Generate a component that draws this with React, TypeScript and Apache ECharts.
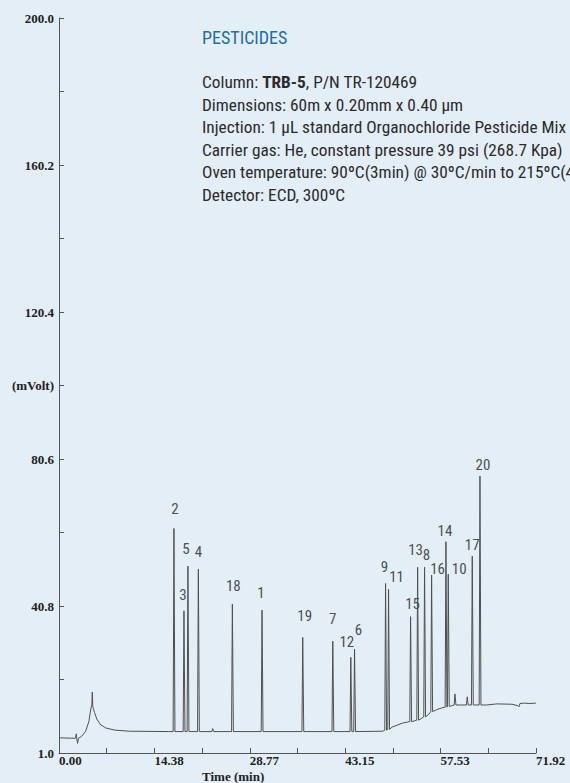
import React, { useEffect, useRef } from "react";
import * as echarts from "echarts";

// ---- axis ticks ----
const xTickLabels = ["0.00", "14.38", "28.77", "43.15", "57.53", "71.92"];
const yTickLabels = ["1.0", "40.8", "80.6", "120.4", "160.2", "200.0"];
const yAxisTitle = "(mVolt)";
const xAxisTitle = "Time (min)";

// ---- labelled peaks (retention time in min, apex in mVolt, baseline under peak) ----
const peakLabels = ["2", "3", "5", "4", "18", "1", "19", "7", "12", "6", "9", "11", "15", "13", "8", "16", "14", "10", "17", "20"];
const peakTimes = [17.33, 18.84, 19.44, 21.01, 26.14, 30.61, 36.75, 41.28, 44.0, 44.56, 49.24, 49.69, 53.01, 54.07, 55.12, 56.18, 58.34, 58.69, 62.31, 63.47];
const peakHeights = [61.8, 39.5, 51.6, 50.8, 41.3, 39.7, 32.3, 31.3, 26.9, 29.1, 46.9, 45.3, 37.9, 51.3, 51.3, 49.2, 58.2, 49.4, 54.3, 76.0];
const peakBases = [6.8, 6.8, 6.8, 6.8, 6.8, 6.8, 6.8, 6.8, 6.8, 6.8, 7.2, 7.4, 9.5, 9.9, 10.8, 12.2, 13.4, 13.6, 14.0, 14.0];

// ---- small unlabelled peaks ----
const minorPeakTimes = [23.17, 59.7, 61.55];
const minorPeakHeights = [7.6, 17.0, 16.2];
const minorPeakBases = [6.8, 14.0, 14.0];

// ---- baseline trace between peaks ----
const baselineTimes = [0.05, 1.9, 2.5, 2.6, 2.68, 2.8, 2.95, 3.4, 4.0, 4.5, 4.8, 4.95, 5.02, 5.1, 5.35, 5.7, 6.2, 7.0, 8.4, 10.6, 16.5, 48.8, 50.2, 51.8, 52.6, 53.6, 54.6, 55.7, 56.9, 57.7, 59.2, 60.5, 64.5, 66.0, 68.3, 69.2, 69.35, 69.5, 70.2, 71.0, 71.9];
const baselineValues = [5.1, 5.0, 5.0, 6.2, 4.9, 3.6, 5.0, 5.5, 6.8, 9.5, 13.0, 14.0, 17.5, 13.5, 12.0, 10.2, 8.8, 7.8, 7.2, 6.9, 6.8, 6.9, 8.0, 9.1, 9.4, 9.7, 10.3, 11.4, 12.7, 13.2, 13.8, 14.0, 14.0, 14.3, 14.2, 13.8, 13.5, 14.4, 14.5, 14.4, 14.5];

// ---- info block ----
const infoTitle = "PESTICIDES";
const infoLines = [
  "Column: {b|TRB-5}, P/N TR-120469",
  "Dimensions: 60m x 0.20mm x 0.40 µm",
  "Injection: 1 µL standard Organochloride Pesticide Mix A",
  "Carrier gas: He, constant pressure 39 psi (268.7 Kpa)",
  "Oven temperature: 90ºC(3min) @ 30ºC/min to 215ºC(4min)",
  "Detector: ECD, 300ºC",
];

// ---- layout of peak labels (pixel nudge from apex to label centre) ----
const labelOffsets = [
  [1, -19], [-1, -16], [-2, -17], [0, -17], [1, -18], [-1, -17], [2, -21], [0, -22], [-4, -15], [4, -19],
  [-1, -16], [8, -12], [2, -13], [-2, -17], [2, -12], [6, -6], [-1, -11], [11, -5], [0, -11], [3, -11],
];

const SANS = "'Liberation Sans Narrow', 'Roboto Condensed', 'Arial Narrow', 'Liberation Sans', sans-serif";
const SERIF = "'Liberation Serif', 'Times New Roman', serif";
const X_MAX = 71.92;
const X_STEP = X_MAX / 10;
const Y_MIN = 1.0;
const Y_STEP = 19.9;
const FOOT_L = 0.12;
const FOOT_R = 0.15;
const INFO_SIZE = 17.3;

export default function App() {
  const ref = useRef<HTMLDivElement>(null);

  useEffect(() => {
    document.body.style.margin = "0";
    if (!ref.current) return;
    const chart = echarts.init(ref.current, undefined, { renderer: "svg" });

    const pts: [number, number][] = [];
    baselineTimes.forEach((t, i) => pts.push([t, baselineValues[i]]));
    const addPeak = (t: number, h: number, b: number) => {
      pts.push([t - FOOT_L, b], [t, h], [t + FOOT_R, b]);
    };
    peakTimes.forEach((t, i) => addPeak(t, peakHeights[i], peakBases[i]));
    minorPeakTimes.forEach((t, i) => addPeak(t, minorPeakHeights[i], minorPeakBases[i]));
    pts.sort((a, b) => a[0] - b[0]);

    const infoGraphics = infoLines.map((line, i) => ({
      type: "text",
      x: 202,
      y: 82 + i * 22.5,
      style: {
        text: line,
        fill: "#2b2b2b",
        fontFamily: SANS,
        fontSize: INFO_SIZE,
        verticalAlign: "middle",
        rich: {
          b: { fontFamily: SANS, fontSize: INFO_SIZE, fontWeight: "bold", fill: "#2b2b2b" },
        },
      },
    }));

    chart.setOption({
      animation: false,
      backgroundColor: "#e4eef6",
      grid: { left: 59, right: 34, top: 18, bottom: 30, containLabel: false },
      xAxis: {
        type: "value",
        min: 0,
        max: X_MAX,
        interval: X_STEP,
        axisLine: { lineStyle: { color: "#555", width: 1 } },
        axisTick: { inside: true, length: 5, lineStyle: { color: "#555" } },
        splitLine: { show: false },
        axisLabel: {
          showMinLabel: true,
          showMaxLabel: true,
          align: "left",
          margin: 1,
          color: "#222",
          fontFamily: SERIF,
          fontWeight: "bold",
          fontSize: 13,
          formatter: (v: number) => {
            const k = Math.round(v / X_STEP);
            return k % 2 === 0 ? xTickLabels[k / 2] : "";
          },
        },
      },
      yAxis: {
        type: "value",
        min: Y_MIN,
        max: 200,
        interval: Y_STEP,
        axisLine: { show: true, lineStyle: { color: "#555", width: 1 } },
        axisTick: { show: true, inside: true, length: 5, lineStyle: { color: "#555" } },
        splitLine: { show: false },
        axisLabel: {
          showMinLabel: true,
          showMaxLabel: true,
          margin: 5,
          color: "#222",
          fontFamily: SERIF,
          fontWeight: "bold",
          fontSize: 13,
          formatter: (v: number) => {
            const k = Math.round((v - Y_MIN) / Y_STEP);
            if (k === 5) return yAxisTitle;
            return k % 2 === 0 ? yTickLabels[k / 2] : "";
          },
        },
      },
      series: [
        {
          type: "line",
          data: pts,
          showSymbol: false,
          symbol: "none",
          silent: true,
          lineStyle: { color: "#505050", width: 1 },
        },
        {
          type: "scatter",
          symbol: "circle",
          symbolSize: 1,
          silent: true,
          itemStyle: { color: "rgba(0,0,0,0)" },
          data: peakTimes.map((t, i) => ({
            value: [t, peakHeights[i]],
            label: { offset: labelOffsets[i] },
          })),
          label: {
            show: true,
            position: "inside",
            color: "#222",
            fontFamily: SANS,
            fontSize: 15,
            formatter: (p: any) => peakLabels[p.dataIndex],
          },
        },
      ],
      graphic: [
        {
          type: "text",
          x: 202,
          y: 37,
          style: {
            text: infoTitle,
            fill: "#1f6fa0",
            fontFamily: SANS,
            fontSize: 18,
            verticalAlign: "middle",
          },
        },
        ...infoGraphics,
        {
          type: "text",
          x: 202,
          y: 776,
          style: {
            text: xAxisTitle,
            fill: "#222",
            fontFamily: SERIF,
            fontWeight: "bold",
            fontSize: 13,
            verticalAlign: "middle",
          },
        },
      ],
    });

    return () => chart.dispose();
  }, []);

  return <div ref={ref} style={{ width: 570, height: 783 }} />;
}
